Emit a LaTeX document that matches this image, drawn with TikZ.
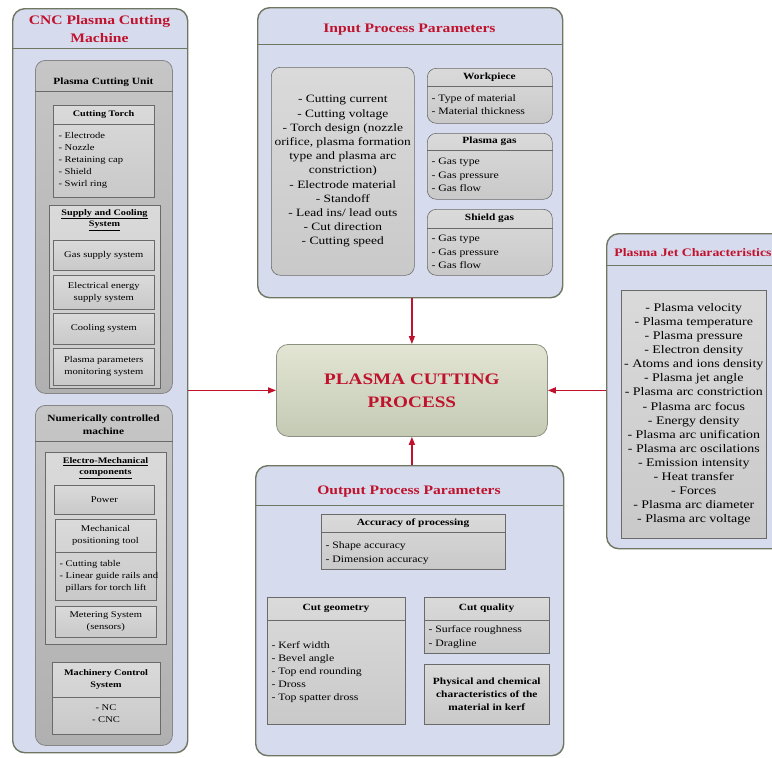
\documentclass[tikz,border=0pt]{standalone}
\usepackage{fontspec}
\setmainfont{Liberation Serif}[FakeStretch=1.2]
\usetikzlibrary{arrows.meta}

\definecolor{panelfill}{HTML}{D7DBEE}
\definecolor{panelline}{HTML}{6F7763}
\definecolor{unittop}{HTML}{C6C6C6}
\definecolor{unitbot}{HTML}{B0B0B0}
\definecolor{unitline}{HTML}{868686}
\definecolor{boxtop}{HTML}{DADADA}
\definecolor{boxbot}{HTML}{C9C9C9}
\definecolor{boxline}{HTML}{6A6A6A}
\definecolor{proctop}{HTML}{E2E5D3}
\definecolor{procbot}{HTML}{C4CAB4}
\definecolor{titlered}{HTML}{C0122C}

\tikzset{
  x=1pt, y=-1pt,
  panel/.style={draw=panelline, line width=1.4pt, rounded corners=12pt,
    fill=panelfill, inner sep=0pt, anchor=north west},
  unitbox/.style={draw=unitline, line width=0.8pt, rounded corners=10pt,
    top color=unittop, bottom color=unitbot, inner sep=0pt, anchor=north west},
  itembox/.style={draw=boxline, line width=0.6pt, top color=boxtop,
    bottom color=boxbot, inner sep=0pt, anchor=north west, align=center},
  rounditem/.style={itembox, rounded corners=9pt},
  procbox/.style={draw=panelline!80, line width=0.8pt, rounded corners=12pt,
    top color=proctop, bottom color=procbot, inner sep=0pt, anchor=north west,
    align=center, text=titlered,
    font=\bfseries\fontsize{16}{23}\selectfont},
  paneltitle/.style={font=\bfseries\fontsize{13}{18}\selectfont, text=titlered, align=center},
  unittitle/.style={font=\bfseries\fontsize{9.5}{13.5}\selectfont, align=center},
  boxtitle/.style={font=\bfseries\fontsize{9.5}{13}\selectfont, align=center},
  smalltitle/.style={font=\bfseries\fontsize{8.5}{11.5}\selectfont, align=center},
  bigtext/.style={font=\fontsize{11.2}{14.2}\selectfont},
  midtext/.style={font=\fontsize{9.8}{13.5}\selectfont, align=left},
  smalltext/.style={font=\fontsize{8.8}{12}\selectfont},
  panelsep/.style={draw=panelline, line width=0.8pt},
  boxsep/.style={draw=boxline, line width=0.6pt},
  flow/.style={draw=titlered, line width=1.3pt, -{Triangle[length=8pt,width=6pt]}},
}

\begin{document}
\begin{tikzpicture}
\useasboundingbox[fill=white] (0,0) rectangle (772,758);

% ---------------- CNC plasma cutting machine ----------------
\node[panel, minimum width=175pt, minimum height=744pt] (lp) at (12,8) {};
\node[paneltitle] (lpt) at (99.5,29) {CNC Plasma Cutting\\Machine};
\draw[panelsep] (lp.west |- 0,48) -- (lp.east |- 0,48);

% plasma cutting unit
\node[unitbox, minimum width=137pt, minimum height=333pt] (pcu) at (35,60) {};
\node[unittitle] (pcut) at (103.5,82) {Plasma Cutting Unit};
\draw[boxsep] (pcu.west |- 0,91) -- (pcu.east |- 0,91);

\node[itembox, minimum width=101pt, minimum height=92pt] (ct) at (53,105) {};
\node[smalltitle] (ctt) at (103.5,114.5) {Cutting Torch};
\draw[boxsep] (ct.west |- 0,124) -- (ct.east |- 0,124);
\node[smalltext, align=left, anchor=west] (ctl) at (55,160)
  {- Electrode\\- Nozzle\\- Retaining cap\\- Shield\\- Swirl ring};

\node[itembox, minimum width=111pt, minimum height=183pt] (scs) at (49,205) {};
\node[smalltitle] (scst) at (104.5,220) {\underline{Supply and Cooling}\\\underline{System}};
\node[itembox, smalltext, minimum width=101pt, minimum height=30pt] (gas) at (53,240) {Gas supply system};
\node[itembox, smalltext, minimum width=101pt, minimum height=34pt] (elec) at (53,275) {Electrical energy\\supply system};
\node[itembox, smalltext, minimum width=101pt, minimum height=31pt] (cool) at (53,313) {Cooling system};
\node[itembox, smalltext, minimum width=101pt, minimum height=37pt] (mon) at (53,348) {Plasma parameters\\monitoring system};

% numerically controlled machine
\node[unitbox, minimum width=137pt, minimum height=340pt] (ncm) at (35,405) {};
\node[unittitle] (ncmt) at (103.5,424.5) {Numerically controlled\\machine};
\draw[boxsep] (ncm.west |- 0,441) -- (ncm.east |- 0,441);

\node[itembox, minimum width=121pt, minimum height=192pt] (emc) at (45,452) {};
\node[smalltitle] (emct) at (105.5,468) {\underline{Electro-Mechanical}\\\underline{components}};
\node[itembox, smalltext, minimum width=100pt, minimum height=29pt] (pow) at (54,485) {Power};
\node[itembox, minimum width=101pt, minimum height=81pt] (mpt) at (55,519) {};
\node[smalltext, align=center] (mptt) at (105.5,535.5) {Mechanical\\positioning tool};
\draw[boxsep] (mpt.west |- 0,552) -- (mpt.east |- 0,552);
\node[smalltext, align=left, anchor=west] (mptl) at (56,576.5)
  {- Cutting table\\- Linear guide rails and\\\phantom{- }pillars for torch lift};
\node[itembox, smalltext, minimum width=101pt, minimum height=31pt] (met) at (55,606) {Metering System\\(sensors)};

\node[itembox, minimum width=108pt, minimum height=72pt] (mcs) at (52,662) {};
\node[smalltitle] (mcst) at (106,679.5) {Machinery Control\\System};
\draw[boxsep] (mcs.west |- 0,697) -- (mcs.east |- 0,697);
\node[smalltext, align=center] (mcsl) at (106,714) {- NC\\- CNC};

% ---------------- input process parameters ----------------
\node[panel, minimum width=305pt, minimum height=290pt] (ipp) at (257,7) {};
\node[paneltitle] (ippt) at (409.5,29.5) {Input Process Parameters};
\draw[panelsep] (ipp.west |- 0,44) -- (ipp.east |- 0,44);

\node[rounditem, bigtext, minimum width=143pt, minimum height=208pt] (ilb) at (271,67)
  {- Cutting current\\- Cutting voltage\\- Torch design (nozzle\\orifice, plasma formation\\type and plasma arc\\constriction)\\- Electrode material\\- Standoff\\- Lead ins/ lead outs\\- Cut direction\\- Cutting speed};

\node[rounditem, minimum width=125pt, minimum height=55pt] (wp) at (427,68) {};
\node[boxtitle] (wpt) at (489.5,77.5) {Workpiece};
\draw[boxsep] (wp.west |- 0,86) -- (wp.east |- 0,86);
\node[midtext, anchor=west] (wpl) at (428,104.5) {- Type of material\\- Material thickness};

\node[rounditem, minimum width=125pt, minimum height=66pt] (pg) at (427,133) {};
\node[boxtitle] (pgt) at (489.5,141.5) {Plasma gas};
\draw[boxsep] (pg.west |- 0,150) -- (pg.east |- 0,150);
\node[midtext, anchor=west] (pgl) at (428,175) {- Gas type\\- Gas pressure\\- Gas flow};

\node[rounditem, minimum width=125pt, minimum height=66pt] (sg) at (427,209) {};
\node[boxtitle] (sgt) at (489.5,218.5) {Shield gas};
\draw[boxsep] (sg.west |- 0,228) -- (sg.east |- 0,228);
\node[midtext, anchor=west] (sgl) at (428,252) {- Gas type\\- Gas pressure\\- Gas flow};

% ---------------- plasma cutting process ----------------
\node[procbox, minimum width=271pt, minimum height=92pt] (pcp) at (276,344)
  {PLASMA CUTTING\\PROCESS};

% ---------------- plasma jet characteristics ----------------
\node[panel, minimum width=190pt, minimum height=315pt] (pjc) at (606,233) {};
\node[paneltitle, font=\bfseries\fontsize{11.5}{14}\selectfont] (pjct) at (693,253) {Plasma Jet Characteristics};
\draw[panelsep] (pjc.west |- 0,265) -- (pjc.east |- 0,265);
\node[itembox, minimum width=145pt, minimum height=248pt,
  font=\fontsize{11.6}{14.1}\selectfont] (pjl) at (621,290)
  {- Plasma velocity\\- Plasma temperature\\- Plasma pressure\\- Electron density\\- Atoms and ions density\\- Plasma jet angle\\- Plasma arc constriction\\- Plasma arc focus\\- Energy density\\- Plasma arc unification\\- Plasma arc oscilations\\- Emission intensity\\- Heat transfer\\- Forces\\- Plasma arc diameter\\- Plasma arc voltage};

% ---------------- output process parameters ----------------
\node[panel, minimum width=308pt, minimum height=290pt] (opp) at (255,465) {};
\node[paneltitle] (oppt) at (409,492) {Output Process Parameters};
\draw[panelsep] (opp.west |- 0,505) -- (opp.east |- 0,505);

\node[itembox, minimum width=184pt, minimum height=55pt] (acc) at (321,514) {};
\node[boxtitle] (acct) at (413,523) {Accuracy of processing};
\draw[boxsep] (acc.west |- 0,532) -- (acc.east |- 0,532);
\node[midtext, anchor=west] (accl) at (322,553) {- Shape accuracy\\- Dimension accuracy};

\node[itembox, minimum width=138pt, minimum height=127pt] (cg) at (267,597) {};
\node[boxtitle] (cgt) at (336,608.5) {Cut geometry};
\draw[boxsep] (cg.west |- 0,620) -- (cg.east |- 0,620);
\node[midtext, anchor=west, font=\fontsize{9.8}{13.2}\selectfont] (cgl) at (268,672)
  {- Kerf width\\- Bevel angle\\- Top end rounding\\- Dross\\- Top spatter dross};

\node[itembox, minimum width=125pt, minimum height=56pt] (cq) at (424,597) {};
\node[boxtitle] (cqt) at (486.5,608.5) {Cut quality};
\draw[boxsep] (cq.west |- 0,620) -- (cq.east |- 0,620);
\node[midtext, anchor=west] (cql) at (425,637) {- Surface roughness\\- Dragline};

\node[itembox, boxtitle, minimum width=125pt, minimum height=60pt] (phy) at (424,664)
  {Physical and chemical\\characteristics of the\\material in kerf};

% ---------------- connectors ----------------
\draw[flow] (ipp.south -| pcp.north) -- (pcp.north);
\draw[flow] (opp.north -| pcp.south) -- (pcp.south);
\draw[flow] (lp.east |- pcp.west) -- (pcp.west);
\draw[flow] (pjc.west |- pcp.east) -- (pcp.east);
\end{tikzpicture}
\end{document}
